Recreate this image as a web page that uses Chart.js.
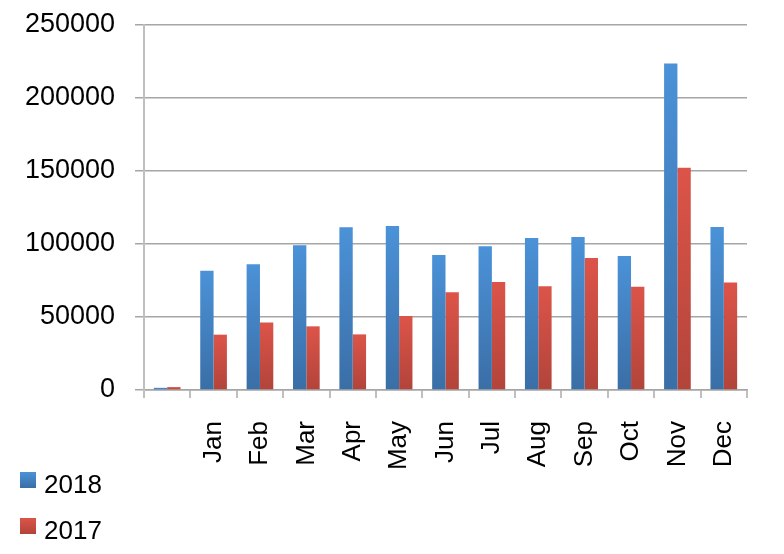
<!DOCTYPE html>
<html>
<head>
<meta charset="utf-8">
<script src="https://cdn.jsdelivr.net/npm/chart.js@4.4.0/dist/chart.umd.min.js"></script>
<style>
  html, body { margin: 0; padding: 0; background: #fff; }
  #wrap { position: relative; width: 784px; height: 554px; }
  #legend { position: absolute; left: 0; top: 0; width: 784px; height: 554px; pointer-events: none;
            font-family: "Liberation Sans", Arial, sans-serif; font-size: 26px; color: #000; }
  .item { position: absolute; left: 44px; line-height: 30px; white-space: nowrap; }
  .box { position: absolute; left: 20px; width: 16px; height: 16px; }
</style>
</head>
<body>
<div id="wrap">
  <canvas id="c"></canvas>
  <div id="legend"></div>
</div>
<script>
const categories = ['', 'Jan', 'Feb', 'Mar', 'Apr', 'May', 'Jun', 'Jul', 'Aug', 'Sep', 'Oct', 'Nov', 'Dec'];
const seriesLabels = ['2018', '2017'];
const values2018 = [1500, 81700, 86100, 99100, 111400, 112300, 92500, 98400, 104100, 104800, 91800, 223700, 111600];
const values2017 = [2000, 37900, 46300, 43600, 38100, 50700, 66900, 74000, 71000, 90400, 70800, 152300, 73700];
const yMin = 0, yMax = 250000, yStep = 50000;

const palettes = [
  { top: '#4b92d8', bottom: '#3a6ea6', legend: '#4080c6' },
  { top: '#dc5449', bottom: '#b2443a', legend: '#cc4b41' }
];

function gradFill(i) {
  return function (ctx) {
    const chart = ctx.chart;
    const p = palettes[i];
    const y = chart.scales && chart.scales.y;
    if (!chart.chartArea || !y || ctx.raw == null) return p.legend;
    const top = y.getPixelForValue(ctx.raw);
    const bot = y.getPixelForValue(0);
    if (!(bot - top > 0.5)) return p.legend;
    const g = chart.ctx.createLinearGradient(0, top, 0, bot);
    g.addColorStop(0, p.top);
    g.addColorStop(1, p.bottom);
    return g;
  };
}

const fontFamily = '"Liberation Sans", Arial, sans-serif';
Chart.defaults.font.family = fontFamily;
Chart.defaults.color = '#000';

const chart = new Chart(document.getElementById('c'), {
  type: 'bar',
  data: {
    labels: categories,
    datasets: [
      { label: seriesLabels[0], data: values2018, backgroundColor: gradFill(0), borderWidth: 0,
        barPercentage: 1, categoryPercentage: 0.575 },
      { label: seriesLabels[1], data: values2017, backgroundColor: gradFill(1), borderWidth: 0,
        barPercentage: 1, categoryPercentage: 0.575 }
    ]
  },
  options: {
    responsive: true,
    maintainAspectRatio: false,
    animation: false,
    layout: { padding: { top: 25, right: 37, bottom: 0, left: 0 } },
    plugins: { legend: { display: false }, tooltip: { enabled: false } },
    scales: {
      x: {
        grid: { display: true, drawOnChartArea: false, drawTicks: true, tickLength: 8,
                color: '#c0c0c0', lineWidth: 2, offset: true },
        border: { display: true, color: '#a6a6a6', width: 1.5 },
        ticks: { autoSkip: false, maxRotation: 90, minRotation: 90, padding: 23,
                 font: { size: 26 }, color: '#000' },
        afterFit: function (scale) { scale.height = 164; }
      },
      y: {
        min: yMin, max: yMax,
        grid: { color: '#a6a6a6', lineWidth: 1.5, tickLength: 9, drawTicks: true },
        border: { display: true, color: '#c0c0c0', width: 2 },
        ticks: { stepSize: yStep, padding: 20, font: { size: 27 }, color: '#000',
                 callback: function (v) { return String(v); } },
        afterFit: function (scale) { scale.width = 144; scale.paddingTop = 0; scale.paddingBottom = 0; }
      }
    }
  }
});

const legend = document.getElementById('legend');
const legendTops = [470, 516];
seriesLabels.forEach(function (lab, i) {
  const box = document.createElement('div');
  box.className = 'box';
  box.style.top = (legendTops[i] + 2) + 'px';
  box.style.background = 'linear-gradient(' + palettes[i].top + ',' + palettes[i].bottom + ')';
  legend.appendChild(box);
  const t = document.createElement('div');
  t.className = 'item';
  t.style.top = (legendTops[i] - 1) + 'px';
  t.textContent = lab;
  legend.appendChild(t);
});
</script>
</body>
</html>
